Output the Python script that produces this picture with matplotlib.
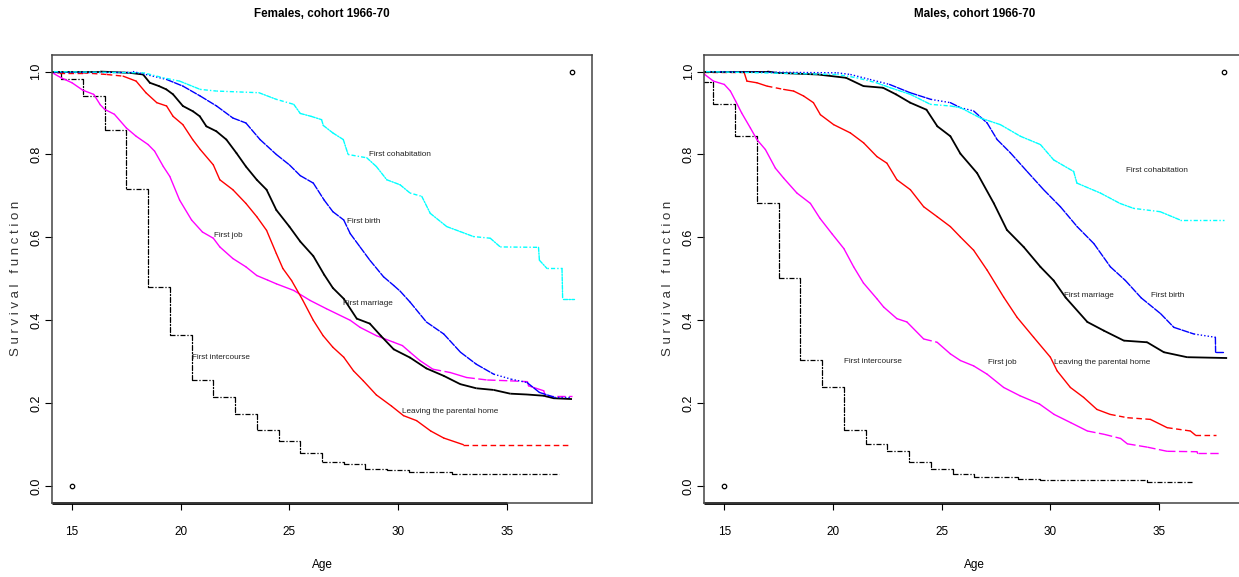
import numpy as np
import matplotlib
matplotlib.use("Agg")
import matplotlib.pyplot as plt
from matplotlib import font_manager as fm
from matplotlib.collections import LineCollection

# ---- data ----
# Females, cohort 1966-70
f_marriage_age = [14.0, 16.3, 17.65, 18.27, 18.58, 19.0, 19.34, 19.65, 20.1, 20.57, 20.88, 21.18, 21.64, 22.1,
                  22.57, 23.0, 23.5, 23.95, 24.4, 25.0, 25.5, 26.1, 26.6, 27.0, 27.5, 28.1, 28.7, 29.2, 29.8,
                  30.55, 31.3, 32.1, 32.86, 33.6, 34.4, 35.16, 35.93, 36.7, 37.16, 38.0]
f_marriage_s = [1.0, 1.0, 0.997, 0.993, 0.973, 0.965, 0.957, 0.945, 0.917, 0.904, 0.892, 0.868, 0.856, 0.836,
                0.803, 0.771, 0.739, 0.715, 0.666, 0.626, 0.590, 0.555, 0.510, 0.478, 0.452, 0.404, 0.392, 0.363,
                0.330, 0.310, 0.284, 0.266, 0.246, 0.236, 0.232, 0.223, 0.221, 0.218, 0.212, 0.210]

f_leaving_age = [14.0, 14.4, 15.5, 16.6, 17.35, 17.95, 18.4, 18.9, 19.35, 19.65, 20.1, 20.55, 20.9, 21.5, 21.8,
                 22.4, 23.0, 23.5, 23.95, 24.4, 24.7, 25.1, 25.6, 26.1, 26.55, 27.0, 27.5, 27.95, 28.4, 29.0,
                 29.7, 30.25, 30.85, 31.5, 32.1, 33.0, 37.9]
f_leaving_s = [1.0, 0.997, 0.997, 0.993, 0.989, 0.977, 0.949, 0.925, 0.917, 0.892, 0.872, 0.836, 0.812, 0.775,
               0.739, 0.715, 0.682, 0.650, 0.617, 0.561, 0.525, 0.496, 0.450, 0.400, 0.363, 0.335, 0.311, 0.278,
               0.254, 0.220, 0.193, 0.170, 0.158, 0.133, 0.116, 0.100, 0.100]

f_job_age = [14.0, 14.5, 15.0, 15.5, 16.0, 16.3, 16.5, 16.95, 17.5, 17.95, 18.5, 18.8, 19.2, 19.5, 19.95, 20.5,
             21.0, 21.5, 21.8, 22.4, 23.0, 23.5, 24.0, 24.4, 25.2, 25.95, 26.7, 27.8, 28.25, 29.0, 29.8, 30.2,
             30.55, 31.0, 31.6, 32.4, 33.15, 34.1, 35.15, 35.95, 36.0, 36.7, 36.77, 38.0]
f_job_s = [1.0, 0.985, 0.973, 0.955, 0.945, 0.92, 0.909, 0.897, 0.864, 0.844, 0.824, 0.808, 0.771, 0.747, 0.69,
           0.642, 0.613, 0.598, 0.577, 0.549, 0.529, 0.508, 0.497, 0.488, 0.472, 0.448, 0.428, 0.40, 0.383, 0.363,
           0.347, 0.339, 0.323, 0.303, 0.282, 0.274, 0.262, 0.256, 0.254, 0.252, 0.242, 0.230, 0.218, 0.218]

f_birth_age = [14.0, 17.8, 18.4, 19.35, 20.1, 20.9, 21.65, 22.4, 23.0, 23.65, 24.4, 25.0, 25.5, 26.1, 26.6, 27.0,
               27.5, 27.8, 28.25, 28.7, 29.33, 29.8, 30.1, 30.55, 31.3, 32.1, 32.87, 33.6, 34.4, 35.2, 35.93,
               36.5, 37.16, 37.9]
f_birth_s = [1.0, 1.0, 0.993, 0.981, 0.965, 0.941, 0.917, 0.888, 0.876, 0.836, 0.80, 0.775, 0.749, 0.731, 0.69,
             0.662, 0.642, 0.609, 0.577, 0.545, 0.505, 0.484, 0.470, 0.444, 0.396, 0.367, 0.323, 0.294, 0.270,
             0.258, 0.250, 0.226, 0.215, 0.215]

f_cohab_age = [14.0, 18.3, 19.2, 19.95, 20.9, 21.65, 23.6, 24.4, 25.2, 25.5, 26.0, 26.48, 26.56, 27.0, 27.48,
               27.7, 28.56, 29.0, 29.48, 30.09, 30.55, 31.09, 31.48, 32.24, 32.86, 33.47, 34.24, 34.7, 36.46,
               36.5, 36.85, 37.54, 37.57, 38.07]
f_cohab_s = [1.0, 0.997, 0.985, 0.977, 0.957, 0.953, 0.949, 0.933, 0.921, 0.899, 0.892, 0.884, 0.870, 0.852,
             0.836, 0.80, 0.792, 0.771, 0.739, 0.727, 0.707, 0.699, 0.658, 0.626, 0.614, 0.602, 0.598, 0.577,
             0.576, 0.545, 0.525, 0.525, 0.452, 0.452]

f_sex_age = [14.0, 14.5, 15.5, 16.5, 17.5, 18.5, 19.5, 20.5, 21.5, 22.5, 23.5, 24.5, 25.5, 26.5, 27.5, 28.5,
             29.5, 30.5, 32.5, 37.4]
f_sex_s = [1.0, 0.981, 0.941, 0.858, 0.716, 0.480, 0.365, 0.256, 0.216, 0.175, 0.136, 0.109, 0.080, 0.059,
           0.053, 0.042, 0.038, 0.034, 0.029, 0.029]

# Males, cohort 1966-70
m_marriage_age = [14.0, 17.0, 17.4, 19.3, 20.6, 21.4, 22.3, 22.9, 23.55, 24.3, 24.8, 25.4, 25.86, 26.63, 27.4,
                  28.0, 28.77, 29.54, 30.15, 30.7, 31.7, 32.46, 33.38, 34.45, 35.22, 36.29, 38.13]
m_marriage_s = [1.0, 1.0, 0.997, 0.993, 0.985, 0.965, 0.961, 0.945, 0.925, 0.908, 0.868, 0.844, 0.802, 0.755,
                0.682, 0.618, 0.577, 0.529, 0.496, 0.455, 0.396, 0.375, 0.351, 0.347, 0.323, 0.311, 0.309]

m_leaving_age = [14.0, 15.9, 16.04, 16.5, 16.96, 17.73, 18.19, 18.65, 19.1, 19.42, 20.03, 20.8, 21.41, 22.02,
                 22.48, 22.94, 23.56, 24.17, 24.79, 25.4, 25.86, 26.47, 27.09, 27.85, 28.47, 29.23, 30.0, 30.31,
                 30.92, 31.53, 32.14, 32.75, 33.54, 34.6, 35.37, 36.44, 36.67, 37.6]
m_leaving_s = [1.0, 1.0, 0.977, 0.973, 0.965, 0.957, 0.953, 0.941, 0.925, 0.896, 0.872, 0.852, 0.828, 0.795,
               0.779, 0.739, 0.715, 0.674, 0.650, 0.626, 0.601, 0.569, 0.521, 0.456, 0.407, 0.359, 0.311, 0.278,
               0.238, 0.214, 0.185, 0.173, 0.165, 0.161, 0.141, 0.133, 0.123, 0.123]

m_job_age = [14.0, 14.1, 14.5, 15.0, 15.28, 15.52, 15.8, 16.2, 16.5, 16.89, 17.35, 17.73, 18.34, 18.96, 19.4,
             19.95, 20.5, 20.95, 21.4, 22.02, 22.33, 22.94, 23.4, 24.17, 24.79, 25.4, 25.86, 26.47, 27.09, 27.85,
             28.6, 29.5, 30.17, 30.94, 31.7, 32.47, 33.23, 33.54, 34.46, 35.37, 36.75, 36.77, 37.82]
m_job_s = [1.0, 0.993, 0.977, 0.969, 0.953, 0.929, 0.90, 0.864, 0.836, 0.812, 0.767, 0.743, 0.707, 0.682, 0.646,
           0.609, 0.573, 0.529, 0.490, 0.452, 0.432, 0.404, 0.396, 0.355, 0.347, 0.319, 0.303, 0.290, 0.270,
           0.238, 0.218, 0.198, 0.173, 0.153, 0.133, 0.125, 0.115, 0.102, 0.094, 0.084, 0.083, 0.079, 0.079]

m_birth_age = [14.0, 20.2, 20.8, 21.7, 22.6, 23.55, 24.5, 25.4, 25.86, 26.47, 27.09, 27.55, 28.16, 28.93, 29.69,
               30.46, 31.23, 32.0, 32.76, 33.45, 34.18, 35.07, 35.68, 36.6, 37.59, 37.6, 37.98]
m_birth_s = [1.0, 0.997, 0.993, 0.981, 0.969, 0.949, 0.933, 0.925, 0.913, 0.905, 0.876, 0.836, 0.804, 0.759,
             0.715, 0.674, 0.626, 0.585, 0.529, 0.496, 0.454, 0.416, 0.383, 0.367, 0.359, 0.323, 0.323]

m_cohab_age = [14.0, 20.2, 21.1, 22.0, 22.64, 23.56, 24.48, 25.4, 25.86, 26.78, 27.7, 28.62, 29.54, 30.15,
               31.07, 31.22, 32.3, 33.2, 33.83, 35.05, 35.97, 37.97]
m_cohab_s = [1.0, 0.993, 0.985, 0.973, 0.961, 0.945, 0.921, 0.917, 0.913, 0.888, 0.872, 0.844, 0.824, 0.787,
             0.759, 0.731, 0.707, 0.682, 0.670, 0.662, 0.642, 0.642]

m_sex_age = [13.5, 14.0, 14.5, 15.5, 16.5, 17.5, 18.5, 19.5, 20.5, 21.5, 22.5, 23.5, 24.5, 25.5, 26.5, 28.5,
             29.5, 34.45, 36.5]
m_sex_s = [1.0, 0.975, 0.923, 0.844, 0.684, 0.501, 0.305, 0.2395, 0.135, 0.102, 0.0836, 0.058, 0.0415, 0.030,
           0.0213, 0.017, 0.014, 0.011, 0.011]

# frame points drawn by plot() before the curves
frame_x = [15, 38]
frame_y = [0, 1]

x_ticks = [15, 20, 25, 30, 35]
y_ticks = [0.0, 0.2, 0.4, 0.6, 0.8, 1.0]

titles = ["Females, cohort 1966-70", "Males, cohort 1966-70"]
ylabel = "S u r v i v a l   f u n c t i o n"

# label text and where it sits (age, survival)
f_labels = [("First cohabitation", 30.1, 0.80), ("First birth", 28.4, 0.639), ("First job", 22.2, 0.605),
            ("First marriage", 28.6, 0.44), ("First intercourse", 21.85, 0.31),
            ("Leaving the parental home", 32.4, 0.179)]
m_labels = [("First cohabitation", 34.9, 0.761), ("First birth", 35.4, 0.46), ("First marriage", 31.75, 0.46),
            ("First job", 27.8, 0.298), ("Leaving the parental home", 32.4, 0.298),
            ("First intercourse", 21.85, 0.3)]

# ---- fonts ----
names = {f.name for f in fm.fontManager.ttflist}
if "Liberation Sans Narrow" in names:
    FONT, k = "Liberation Sans Narrow", 1.2
else:
    FONT, k = "Liberation Sans", 1.0
plt.rcParams["font.family"] = [FONT, "DejaVu Sans"]


def draw_curve(ax, ages, surv, color, short_ls, long_ls, lw=1.0, steps=False, min_px=12):
    # long flat segments get the dash pattern (restarting on every segment, like the
    # original device); the dense steep parts are drawn with short_ls
    x = np.asarray(ages, float)
    y = np.asarray(surv, float)
    if steps:
        x = np.repeat(x, 2)[1:]
        y = np.repeat(y, 2)[:-1]
    pts = ax.transData.transform(np.column_stack([x, y]))
    d = np.diff(pts, axis=0)
    seg_len = np.hypot(d[:, 0], d[:, 1])
    flat = np.abs(d[:, 1]) <= 0.3 * np.abs(d[:, 0])
    segs = np.stack([np.column_stack([x[:-1], y[:-1]]), np.column_stack([x[1:], y[1:]])], axis=1)
    longs = (seg_len > min_px) & flat
    if (~longs).any():
        ax.add_collection(LineCollection(segs[~longs], colors=color, linewidths=lw,
                                         linestyles=short_ls, capstyle="round", joinstyle="round"))
    if longs.any():
        ax.add_collection(LineCollection(segs[longs], colors=color, linewidths=lw,
                                         linestyles=long_ls, capstyle="butt"))


fig = plt.figure(figsize=(12.39, 5.77), dpi=100)
W, H = 1239, 577
panels = [
    (52.0, titles[0], f_labels,
     [(f_sex_age, f_sex_s), (f_job_age, f_job_s), (f_leaving_age, f_leaving_s), (f_marriage_age, f_marriage_s),
      (f_birth_age, f_birth_s), (f_cohab_age, f_cohab_s)]),
    (704.3, titles[1], m_labels,
     [(m_sex_age, m_sex_s), (m_job_age, m_job_s), (m_leaving_age, m_leaving_s), (m_marriage_age, m_marriage_s),
      (m_birth_age, m_birth_s), (m_cohab_age, m_cohab_s)]),
]

# style per curve: colour, short-segment style, long-segment style, width, step drawing
styles = [
    ("black", (0, (4, 1.5, 1, 1.5)), (0, (4, 1.5, 1, 1.5)), 0.9, True),
    ("#FF00FF", "-", (0, (6, 2.5)), 1.0, False),
    ("#FF0000", "-", (0, (4, 2.5)), 1.0, False),
    ("black", "-", "-", 1.3, False),
    ("#0000FF", (0, (5, 1.2)), (0, (1, 1.5)), 1.0, False),
    ("#00FFFF", (0, (3, 1, 1, 1)), (0, (1, 1.5, 3, 1.5)), 1.0, False),
]

for left_px, title, labels, curves in panels:
    ax = fig.add_axes([left_px / W, 1 - 502.7 / H, 540 / W, 447.7 / H])
    ax.set_xlim(14.08, 38.92)
    ax.set_ylim(-0.04, 1.04)

    for (ages, surv), (col, sls, lls, lw, st) in zip(curves, styles):
        draw_curve(ax, ages, surv, col, sls, lls, lw=lw, steps=st)

    ax.plot(frame_x, frame_y, "o", ms=3.2, mfc="none", mec="black", mew=0.9)

    for txt, a, s in labels:
        ax.text(a, s, txt, ha="center", va="center", fontsize=5.9 * k, color="#222222")

    ax.set_xticks(x_ticks)
    ax.set_xticklabels([str(t) for t in x_ticks], fontsize=8.5 * k)
    ax.set_yticks(y_ticks)
    ax.set_yticklabels([f"{t:.1f}" for t in y_ticks], fontsize=9 * k, rotation=90, va="center")
    ax.tick_params(axis="x", direction="out", length=5, width=0.8, pad=12)
    ax.tick_params(axis="y", direction="out", length=5, width=0.8, pad=2)
    for sp in ax.spines.values():
        sp.set_color("#444444")
        sp.set_linewidth(1.1)
    # heavier axis line along the bottom, as drawn by axis()
    ax.plot([ax.get_xlim()[0], x_ticks[-1]], [0, 0], transform=ax.get_xaxis_transform(),
            color="black", lw=2.0, clip_on=False, solid_capstyle="butt")

    ax.set_xlabel("Age", fontsize=8.5 * k)
    ax.xaxis.set_label_coords(0.5, -56 / 447.7)
    ax.set_ylabel(ylabel, fontsize=9.5 * k, color="#333333")
    ax.yaxis.set_label_coords(-30 / 540, 0.5)
    ax.set_title(title, fontsize=8.4 * k, fontweight="bold", y=1 + 33 / 447.7, va="center")

fig.savefig("out.png", dpi=100)
